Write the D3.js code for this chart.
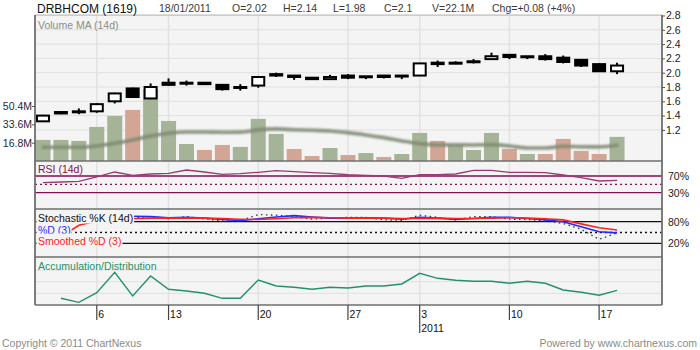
<!DOCTYPE html>
<html>
<head>
<meta charset="utf-8">
<script src="https://cdn.jsdelivr.net/npm/d3@7/dist/d3.min.js"></script>
<style>
  html, body { margin: 0; padding: 0; background: #fff; }
  svg { display: block; font-family: "Liberation Sans", Arial, sans-serif; }
</style>
</head>
<body>
<svg id="chart" width="700" height="350"></svg>
<script>
// ---- Daily data, DRBHCOM (1619) ----
const dates = ["2010-12-01","2010-12-02","2010-12-03","2010-12-06","2010-12-08","2010-12-09","2010-12-10",
  "2010-12-13","2010-12-14","2010-12-15","2010-12-16","2010-12-17","2010-12-20","2010-12-21","2010-12-22",
  "2010-12-23","2010-12-24","2010-12-27","2010-12-28","2010-12-29","2010-12-30","2011-01-03","2011-01-04",
  "2011-01-05","2011-01-06","2011-01-07","2011-01-10","2011-01-11","2011-01-12","2011-01-13","2011-01-14",
  "2011-01-17","2011-01-18"];
const openPx  = [1.32,1.45,1.46,1.46,1.60,1.78,1.64,1.86,1.86,1.86,1.83,1.80,1.82,1.98,1.96,1.93,1.91,1.96,1.95,1.96,1.96,1.96,2.14,2.13,2.15,2.19,2.25,2.23,2.23,2.21,2.18,2.12,2.02];
const highPx  = [1.41,1.46,1.50,1.57,1.72,1.79,1.85,1.92,1.89,1.87,1.84,1.84,1.94,2.00,1.96,1.93,1.97,1.98,1.95,1.96,1.96,2.13,2.17,2.16,2.19,2.28,2.25,2.23,2.26,2.24,2.18,2.13,2.14];
const lowPx   = [1.31,1.42,1.42,1.44,1.57,1.65,1.63,1.82,1.82,1.83,1.75,1.75,1.79,1.94,1.90,1.90,1.91,1.91,1.91,1.92,1.91,1.96,2.08,2.12,2.13,2.19,2.19,2.19,2.17,2.13,2.08,2.01,1.98];
const closePx = [1.40,1.43,1.46,1.56,1.71,1.66,1.80,1.83,1.86,1.84,1.77,1.80,1.94,1.96,1.94,1.91,1.94,1.93,1.95,1.94,1.96,2.13,2.12,2.14,2.16,2.23,2.22,2.22,2.19,2.15,2.10,2.02,2.10];
// volume in millions of shares
const volume   = [19.3,19.3,18.4,31.2,41.3,46.8,65.8,36.7,15.6,10.1,14.7,12.9,38.6,24.8,11.0,4.6,11.9,5.5,7.3,3.7,6.4,25.7,18.4,14.7,10.1,25.7,11.0,6.4,6.4,20.2,9.2,6.4,22.1];
const volumeMA = [12.6,12.6,12.6,13.8,16.2,19.3,22.9,25.4,26.6,26.6,26.3,26.5,28.5,29.4,28.7,28.2,27.5,26.0,23.9,21.4,18.4,15.9,14.7,14.9,14.7,15.0,13.8,11.9,11.9,13.5,13.1,12.9,14.4];
const rsi14    = [54,55.6,57,68,79.6,71.6,74.8,76.4,84.4,79.6,74,75.5,78.9,82.7,80.3,77.9,76.4,73,71.6,70,64.5,73.2,73.2,74.8,83.6,83.6,78.9,78.9,77.9,72.4,66,58,59.7];
const stochK   = [88,92,95,96,98,90,94,88,94,88,82,82,100,98,94,87,90,92,92,85,84,98,92,85,94,94,87,86,82,75,59,31,49];
const stochD   = [85,88,90,92,95,95,94,91,92,90,86,83,88,93,97,93,90,90,91,90,87,92,90,86,89,92,92,89,85,80,66,52,49];
const stochSD  = [null,38,70,82,86,88,90,90,90,90,89,87,86,88,91,92,91,90,90,90,89,89,90,89,89,90,91,90,88,85,74,63,57];
const accDist  = [null,11.5,4.6,21.1,56.1,15.5,49.8,27.0,24.0,20.1,11.5,11.5,42.9,32.6,30.4,27.0,30.4,29.2,32.6,32.6,36.1,54.4,45.8,42.4,40.7,40.7,37.3,40.7,37.3,25.8,21.8,16.7,25.2];

const tickDates  = ["2010-12-06","2010-12-13","2010-12-20","2010-12-27","2011-01-03","2011-01-10","2011-01-17"];
const tickLabels = ["6","13","20","27","3","10","17"];
const yearDate = "2011-01-03", yearLabel = "2011";
const priceTicks = [1.2,1.4,1.6,1.8,2.0,2.2,2.4,2.6,2.8];
const volumeTicks = [16.8,33.6,50.4];
const rsiLevels = [70,30];
const stochLevels = [80,20];
const adGrid = [20,40,60];

// ---- Layout ----
const L = 35, R = 662;
const P = { main:[15,161], rsi:[161,209], stoch:[209,257], ad:[257,305] };
const step = 17.94;

const svg = d3.select("#chart");
const n = dates.length;

const x = d3.scaleBand().domain(dates).range([34, 34 + n * step]).paddingInner(0).paddingOuter(0);
const cx = d => x(d) + x.bandwidth() / 2;

const yPrice = d3.scaleLinear().domain([1.2, 2.8]).range([129.9, 15.5]);
const yVol   = d3.scaleLinear().domain([0, 50.4]).range([161, 106]);
const yRsi   = d3.scaleLinear().domain([30, 70]).range([192.7, 176]);
const yStoch = d3.scaleLinear().domain([20, 80]).range([243.3, 221.7]);
const yAD    = d3.scaleLinear().domain([0, 82.4]).range([305, 257]);

const rows = dates.map((d, i) => ({
  d, i, o: openPx[i], h: highPx[i], l: lowPx[i], c: closePx[i],
  v: volume[i], vma: volumeMA[i], rsi: rsi14[i],
  k: stochK[i], sd: stochD[i], ssd: stochSD[i], ad: accDist[i]
}));

// blur for the soft volume-average line
const defs = svg.append("defs");
defs.append("filter").attr("id", "soft").attr("x", "-5%").attr("y", "-50%").attr("width", "110%").attr("height", "200%")
  .append("feGaussianBlur").attr("stdDeviation", 0.8);
defs.append("clipPath").attr("id", "plotClip").append("rect")
  .attr("x", L).attr("y", P.main[0]).attr("width", R - L).attr("height", P.ad[1] - P.main[0]);

// ---- Backgrounds ----
svg.append("rect").attr("x", L).attr("y", P.main[0]).attr("width", R - L)
  .attr("height", P.ad[1] - P.main[0]).attr("fill", "#f4f4f4");

const grid = svg.append("g").attr("clip-path", "url(#plotClip)");
// vertical grid on Mondays
grid.selectAll("line.vg").data(tickDates).join("line")
  .attr("x1", d => cx(d)).attr("x2", d => cx(d))
  .attr("y1", P.main[0]).attr("y2", P.ad[1])
  .attr("stroke", "#e2e2e2").attr("stroke-width", 1.5);
// horizontal grid, price panel
grid.selectAll("line.hg").data(priceTicks).join("line")
  .attr("x1", L).attr("x2", R)
  .attr("y1", d => yPrice(d)).attr("y2", d => yPrice(d))
  .attr("stroke", "#e0e0e0").attr("stroke-width", 1);
// horizontal grid, A/D panel
grid.selectAll("line.adg").data(adGrid).join("line")
  .attr("x1", L).attr("x2", R)
  .attr("y1", d => yAD(d)).attr("y2", d => yAD(d))
  .attr("stroke", "#e0e0e0").attr("stroke-width", 1);

// ---- Volume ----
const upColor = "#a5b396", downColor = "#d3a594";
svg.append("g").selectAll("rect").data(rows).join("rect")
  .attr("x", r => cx(r.d) - 7.5).attr("width", 15)
  .attr("y", r => yVol(r.v)).attr("height", r => yVol(0) - yVol(r.v))
  .attr("fill", r => {
    const prev = r.i > 0 ? closePx[r.i - 1] : r.o;
    return r.c >= prev ? upColor : downColor;
  });

svg.append("path").datum(rows)
  .attr("d", d3.line().x(r => cx(r.d)).y(r => yVol(r.vma)).curve(d3.curveMonotoneX))
  .attr("fill", "none").attr("stroke", "#7f8a72").attr("stroke-width", 3.6).attr("stroke-opacity", 0.9)
  .attr("stroke-linecap", "round").attr("filter", "url(#soft)");

// ---- Candles ----
const candles = svg.append("g").selectAll("g").data(rows).join("g");
candles.append("line")
  .attr("x1", r => cx(r.d)).attr("x2", r => cx(r.d))
  .attr("y1", r => yPrice(r.h)).attr("y2", r => yPrice(r.l))
  .attr("stroke", "#000").attr("stroke-width", 2);
candles.append("rect")
  .attr("x", r => cx(r.d) - 6).attr("width", 12)
  .attr("y", r => yPrice(Math.max(r.o, r.c)))
  .attr("height", r => Math.max(1, Math.abs(yPrice(r.o) - yPrice(r.c))))
  .attr("fill", r => r.c > r.o ? "#fff" : "#000")
  .attr("stroke", "#000").attr("stroke-width", 2);

// ---- RSI ----
const rsiColor = "#80104e";
svg.selectAll("line.rl").data(rsiLevels).join("line")
  .attr("x1", L).attr("x2", R).attr("y1", d => yRsi(d)).attr("y2", d => yRsi(d))
  .attr("stroke", rsiColor).attr("stroke-width", 1.3);
svg.append("line").attr("x1", L).attr("x2", R).attr("y1", yRsi(50)).attr("y2", yRsi(50))
  .attr("stroke", rsiColor).attr("stroke-width", 1.3).attr("stroke-dasharray", "2,3");
svg.append("path").datum(rows)
  .attr("d", d3.line().x(r => cx(r.d)).y(r => yRsi(r.rsi)))
  .attr("fill", "none").attr("stroke", "#9a3a70").attr("stroke-width", 1.3);

// ---- Stochastic ----
svg.selectAll("line.sl").data(stochLevels).join("line")
  .attr("x1", L).attr("x2", R).attr("y1", d => yStoch(d)).attr("y2", d => yStoch(d))
  .attr("stroke", "#111").attr("stroke-width", 1.3);
svg.append("line").attr("x1", L).attr("x2", R).attr("y1", yStoch(50)).attr("y2", yStoch(50))
  .attr("stroke", "#111").attr("stroke-width", 1.3).attr("stroke-dasharray", "2,3");
const stochLine = key => d3.line().defined(r => r[key] != null).x(r => cx(r.d)).y(r => yStoch(r[key]));
svg.append("path").datum(rows).attr("d", stochLine("k"))
  .attr("fill", "none").attr("stroke", "#333").attr("stroke-width", 1.3).attr("stroke-dasharray", "1.5,3.5");
svg.append("path").datum(rows).attr("d", stochLine("sd"))
  .attr("fill", "none").attr("stroke", "#1f2cff").attr("stroke-width", 1.6);
svg.append("path").datum(rows).attr("d", stochLine("ssd"))
  .attr("fill", "none").attr("stroke", "#ff2222").attr("stroke-width", 1.6);

// ---- Accumulation / Distribution ----
svg.append("path").datum(rows)
  .attr("d", d3.line().defined(r => r.ad != null).x(r => cx(r.d)).y(r => yAD(r.ad)))
  .attr("fill", "none").attr("stroke", "#23916a").attr("stroke-width", 1.4);

// ---- Panel labels ----
function panelLabel(text, y, color, boxed) {
  const t = svg.append("text").attr("x", 38).attr("y", y).attr("font-size", 10.5)
    .attr("fill", color).text(text);
  if (boxed) {
    const b = t.node().getBBox();
    svg.insert("rect", () => t.node())
      .attr("x", b.x - 1.5).attr("y", b.y - 1.5).attr("width", b.width + 2.5).attr("height", b.height + 1.5)
      .attr("fill", "#f4f4f4");
  }
}
panelLabel("Volume MA (14d)", 28.5, "#8c8c84", false);
panelLabel("RSI (14d)", 173, rsiColor, false);
panelLabel("Stochastic %K (14d)", 221.5, "#111", true);
panelLabel("%D (3)", 233.5, "#1f2cff", true);
panelLabel("Smoothed %D (3)", 245, "#ff2222", true);
panelLabel("Accumulation/Distribution", 269.5, "#23916a", false);

// ---- Frames ----
const frame = svg.append("g").attr("fill", "none").attr("stroke", "#6f6f6f");
frame.append("line").attr("x1", L).attr("x2", R).attr("y1", P.main[0]).attr("y2", P.main[0]).attr("stroke", "#b8b8b8").attr("stroke-width", 1);
[P.rsi[0], P.stoch[0], P.ad[0], P.ad[1]].forEach(y =>
  frame.append("line").attr("x1", L).attr("x2", R).attr("y1", y).attr("y2", y).attr("stroke-width", 1.6));
[L, R].forEach(xv =>
  frame.append("line").attr("x1", xv).attr("x2", xv).attr("y1", P.main[0]).attr("y2", P.ad[1]).attr("stroke-width", 1.8));

// ---- Axes ----
function styleAxis(g, color) {
  g.select(".domain").remove();
  g.selectAll("text").attr("font-size", 10.5).attr("fill", color).attr("font-family", "Liberation Sans, Arial, sans-serif");
  g.selectAll("line").attr("stroke", "#555");
}
svg.append("g").attr("transform", `translate(${R},0)`)
  .call(d3.axisRight(yPrice).tickValues(priceTicks).tickFormat(d3.format(".1f")).tickSize(3).tickPadding(1))
  .call(g => styleAxis(g, "#222"));
svg.append("g").attr("transform", `translate(${L},0)`)
  .call(d3.axisLeft(yVol).tickValues(volumeTicks).tickFormat(d => d.toFixed(1) + "M").tickSize(3).tickPadding(0))
  .call(g => styleAxis(g, "#1f1f44"));
svg.append("g").attr("transform", `translate(${R},0)`)
  .call(d3.axisRight(yRsi).tickValues(rsiLevels).tickFormat(d => d + "%").tickSize(0).tickPadding(6))
  .call(g => styleAxis(g, "#222"));
svg.append("g").attr("transform", `translate(${R},0)`)
  .call(d3.axisRight(yStoch).tickValues(stochLevels).tickFormat(d => d + "%").tickSize(0).tickPadding(6))
  .call(g => styleAxis(g, "#222"));

const xAxis = svg.append("g").attr("transform", `translate(0,${P.ad[1]})`)
  .call(d3.axisBottom(x).tickValues(tickDates).tickFormat((d, i) => tickLabels[i]).tickSize(15).tickPadding(0))
  .call(g => styleAxis(g, "#111"));
xAxis.selectAll("text").attr("text-anchor", "start").attr("x", 1.5).attr("y", 13).attr("dy", 0);
xAxis.selectAll("line").attr("stroke", "#444").attr("stroke-width", 1.2);
xAxis.selectAll(".tick").filter(d => d === yearDate).append("line")
  .attr("y1", 15).attr("y2", 28).attr("stroke", "#444").attr("stroke-width", 1.2);
xAxis.selectAll(".tick").filter(d => d === yearDate).append("text")
  .attr("x", 1.5).attr("y", 26.5).attr("text-anchor", "start").attr("font-size", 10.5)
  .attr("fill", "#111").text(yearLabel);

// ---- Header ----
const hdr = svg.append("g");
hdr.append("text").attr("x", 37).attr("y", 12.5).attr("font-size", 12).attr("fill", "#111").text("DRBHCOM (1619)");
const last = rows[n - 1], prevClose = closePx[n - 2];
const chg = last.c - prevClose;
const fmtDate = d3.timeFormat("%d/%m/%Y");
const headerItems = [
  [159, fmtDate(d3.timeParse("%Y-%m-%d")(last.d))],
  [232, "O=" + d3.format(".2f")(last.o)],
  [283, "H=" + d3.format(".2f")(last.h)],
  [333, "L=" + d3.format(".2f")(last.l)],
  [384, "C=" + String(+last.c.toFixed(2))],
  [432, "V=" + last.v.toFixed(1) + "M"],
  [492, "Chg=" + (chg >= 0 ? "+" : "") + chg.toFixed(2) + " (" + (chg >= 0 ? "+" : "") + Math.round(chg / prevClose * 100) + "%)"]
];
hdr.selectAll("text.h").data(headerItems).join("text")
  .attr("x", d => d[0]).attr("y", 12).attr("font-size", 10.5).attr("fill", "#3a3a3a").text(d => d[1]);

// ---- Footer ----
svg.append("text").attr("x", 2).attr("y", 347).attr("font-size", 10.5).attr("fill", "#8a8a8a")
  .text("Copyright \u00A9 2011 ChartNexus");
svg.append("text").attr("x", 697).attr("y", 347).attr("font-size", 10.5).attr("fill", "#8a8a8a")
  .attr("text-anchor", "end").text("Powered by www.chartnexus.com");
</script>
</body>
</html>
